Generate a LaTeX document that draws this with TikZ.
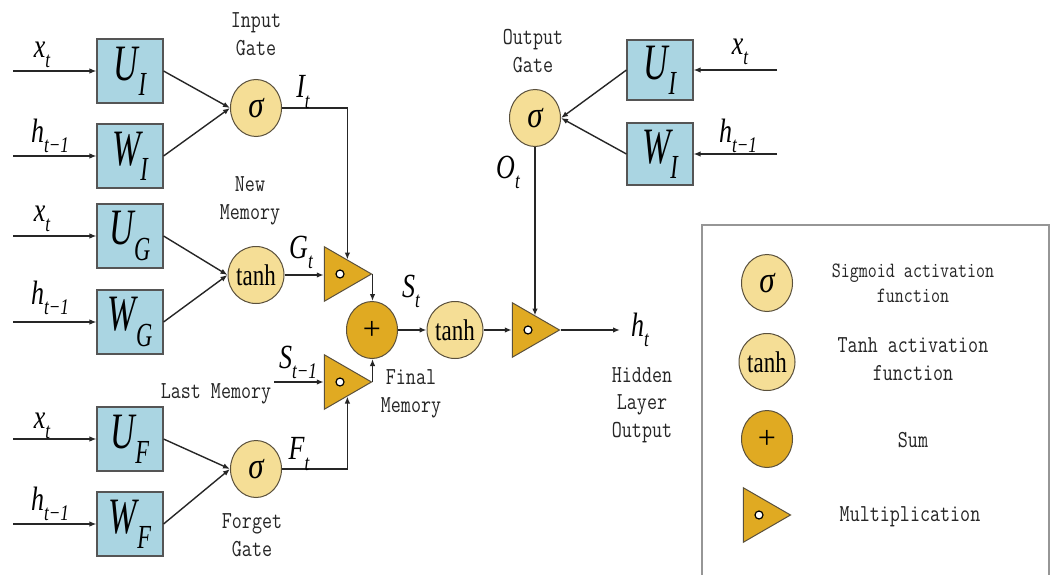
\documentclass[tikz,border=0pt]{standalone}
\usepackage{fontspec}
\usepackage{graphicx}
\usetikzlibrary{shapes.geometric,arrows.meta}
\newfontfamily\tms{Liberation Serif}
\definecolor{boxblue}{RGB}{170,213,226}
\definecolor{boxline}{RGB}{85,85,85}
\definecolor{lightgold}{RGB}{245,222,150}
\definecolor{gold}{RGB}{224,170,34}
\definecolor{shapeline}{RGB}{90,80,60}
\definecolor{legline}{RGB}{150,150,150}
\newcommand{\vs}[2][1.3]{\scalebox{1}[#1]{#2}}
\newcommand{\sv}[2]{{\tms\itshape #1\raisebox{-0.3em}{\scalebox{0.66}{#2}}}}
\begin{document}
\begin{tikzpicture}[x=1pt,y=-1pt,
 wbox/.style={draw=boxline, fill=boxblue, line width=1.1pt, minimum width=66pt, minimum height=64pt, inner sep=0pt, font=\fontsize{34}{40}\selectfont},
 act/.style={ellipse, draw=shapeline, fill=lightgold, line width=1pt, minimum width=51pt, minimum height=57pt, inner sep=0pt},
 sumst/.style={act, fill=gold},
 mul/.style={regular polygon, regular polygon sides=3, shape border rotate=-90, minimum size=63pt, inner sep=0pt, draw=shapeline, fill=gold, line width=1pt},
 dotst/.style={draw=black, fill=white, line width=1.2pt},
 arr/.style={draw=black!85, line width=1.4pt, -{Latex[length=7pt,width=5.5pt]}},
 lbl/.style={font=\ttfamily\fontsize{19.5}{22}\selectfont, inner sep=0pt, text=black!85},
 mlbl/.style={font=\fontsize{26}{30}\selectfont, inner sep=0pt},
 sig/.style={font=\tms\itshape\fontsize{31}{34}\selectfont},
 tnh/.style={font=\tms\fontsize{23}{26}\selectfont},
 plus/.style={font=\tms\fontsize{32}{34}\selectfont},
]
\useasboundingbox[fill=white] (0,0) rectangle (1054,575);

% weight boxes
\node[wbox] (UI) at (130,71) {\vs[1.5]{\sv{U}{I}}};
\node[wbox] (WI) at (130,156) {\vs[1.5]{\sv{W}{I}}};
\node[wbox] (UG) at (130,236) {\vs[1.5]{\sv{U}{G}}};
\node[wbox] (WG) at (130,322) {\vs[1.5]{\sv{W}{G}}};
\node[wbox] (UF) at (130,439) {\vs[1.5]{\sv{U}{F}}};
\node[wbox] (WF) at (130,524) {\vs[1.5]{\sv{W}{F}}};
\node[wbox, minimum height=60pt] (UO) at (660,70) {\vs[1.5]{\sv{U}{I}}};
\node[wbox, minimum height=62pt] (WO) at (660,154) {\vs[1.5]{\sv{W}{I}}};

% activations
\node[act, sig] (sI) at (256,108) {\vs[1.2]{σ}};
\node[act, tnh] (tG) at (256,275) {\vs{tanh}};
\node[act, sig] (sF) at (256,469) {\vs[1.2]{σ}};
\node[sumst, plus] (sum) at (372,330) {+};
\node[act, tnh] (tS) at (455,330) {\vs{tanh}};
\node[act, sig] (sO) at (535,118) {\vs[1.2]{σ}};

% multipliers
\node[mul] (m1) at (340,274) {};
\node[mul] (m2) at (340,382) {};
\node[mul] (m3) at (528,330) {};

% free ends
\coordinate (inUI) at (13,71);
\coordinate (inWI) at (13,156);
\coordinate (inUG) at (13,236);
\coordinate (inWG) at (13,322);
\coordinate (inUF) at (13,439);
\coordinate (inWF) at (13,524);
\coordinate (inUO) at (777,70);
\coordinate (inWO) at (777,154);
\coordinate (lastm) at (274,382);
\coordinate (hout) at (620,330);

% connectors
\draw[arr] (inUI) -- (UI.west);
\draw[arr] (inWI) -- (WI.west);
\draw[arr] (inUG) -- (UG.west);
\draw[arr] (inWG) -- (WG.west);
\draw[arr] (inUF) -- (UF.west);
\draw[arr] (inWF) -- (WF.west);
\draw[arr] (UI.east) -- (sI.west);
\draw[arr] (WI.east) -- (sI.west);
\draw[arr] (UG.east) -- (tG.west);
\draw[arr] (WG.east) -- (tG.west);
\draw[arr] (UF.east) -- (sF.west);
\draw[arr] (WF.east) -- (sF.west);
\draw[arr] (sI.east) -| (m1.63);
\draw[arr] (tG.east) -- (tG.east -| m1.180);
\draw[arr] (m1.corner 1) -- (m1.corner 1 |- sum.north);
\draw[arr] (lastm) -- (m2.180);
\draw[arr] (sF.east) -| (m2.-63);
\draw[arr] (m2.corner 1) -- (m2.corner 1 |- sum.south);
\draw[arr] (sum.east) -- (tS.west);
\draw[arr] (tS.east) -- (m3.180);
\draw[arr] (m3.corner 1) -- (hout);
\draw[arr] (sO.south) -- (sO.south |- m3.63);
\draw[arr] (inUO) -- (UO.east);
\draw[arr] (inWO) -- (WO.east);
\draw[arr] (UO.west) -- (sO.east);
\draw[arr] (WO.west) -- (sO.east);

% variable labels
\node[mlbl] (lx1) at (42,55) {\vs[1.3]{\sv{x}{t}}};
\node[mlbl] (lh1) at (50,136) {\vs[1.3]{\sv{h}{t−1}}};
\node[mlbl] (lx2) at (42,219) {\vs[1.3]{\sv{x}{t}}};
\node[mlbl] (lh2) at (50,298) {\vs[1.3]{\sv{h}{t−1}}};
\node[mlbl] (lx3) at (42,426) {\vs[1.3]{\sv{x}{t}}};
\node[mlbl] (lh3) at (50,504) {\vs[1.3]{\sv{h}{t−1}}};
\node[mlbl] (lx4) at (740,52) {\vs[1.3]{\sv{x}{t}}};
\node[mlbl] (lh4) at (738,136) {\vs[1.3]{\sv{h}{t−1}}};
\node[mlbl] (lIt) at (303,92) {\vs[1.3]{\sv{I}{t}}};
\node[mlbl] (lGt) at (301,252) {\vs[1.3]{\sv{G}{t}}};
\node[mlbl] (lSm) at (298,362) {\vs[1.3]{\sv{S}{t−1}}};
\node[mlbl] (lFt) at (299,454) {\vs[1.3]{\sv{F}{t}}};
\node[mlbl] (lSt) at (411,291) {\vs[1.3]{\sv{S}{t}}};
\node[mlbl] (lOt) at (508,172) {\vs[1.3]{\sv{O}{t}}};
\node[mlbl] (lht) at (640,330) {\vs[1.3]{\sv{h}{t}}};

% text labels
\node[lbl] (tIn) at (256,36) {\vs[1.25]{\begin{tabular}{@{}c@{}}Input\\Gate\end{tabular}}};
\node[lbl] (tNew) at (250,200) {\vs[1.25]{\begin{tabular}{@{}c@{}}New\\Memory\end{tabular}}};
\node[lbl] (tLast) at (216,394) {\vs[1.25]{Last Memory}};
\node[lbl] (tFg) at (252,537) {\vs[1.25]{\begin{tabular}{@{}c@{}}Forget\\Gate\end{tabular}}};
\node[lbl] (tFin) at (411,393) {\vs[1.25]{\begin{tabular}{@{}c@{}}Final\\Memory\end{tabular}}};
\node[lbl] (tOut) at (533,53) {\vs[1.25]{\begin{tabular}{@{}c@{}}Output\\Gate\end{tabular}}};
\node[lbl] (tHid) at (642,404) {\vs[1.25]{\begin{tabular}{@{}c@{}}Hidden\\Layer\\Output\end{tabular}}};

% legend
\draw[legline, line width=1.2pt] (702,578) -- (702,225) -- (1049,225) -- (1049,578);
\node[act, sig] (lS) at (767,283) {\vs[1.2]{σ}};
\node[act, tnh] (lT) at (767,362) {\vs{tanh}};
\node[sumst, plus] (lP) at (767,439) {+};
\node[mul] (lM) at (759,515) {};
\node[lbl, font=\ttfamily\fontsize{17.5}{20.5}\selectfont] (tS1) at (913,285) {\vs[1.25]{\begin{tabular}{@{}c@{}}Sigmoid activation\\function\end{tabular}}};
\node[lbl] (tT1) at (913,361) {\vs[1.25]{\begin{tabular}{@{}c@{}}Tanh activation\\function\end{tabular}}};
\node[lbl] (tP1) at (913,440) {\vs[1.25]{Sum}};
\node[lbl] (tM1) at (910,517) {\vs[1.25]{Multiplication}};

% multiplication dots
\foreach \m in {m1,m2,m3,lM} \draw[dotst] (\m.center) circle (4);
\end{tikzpicture}
\end{document}
